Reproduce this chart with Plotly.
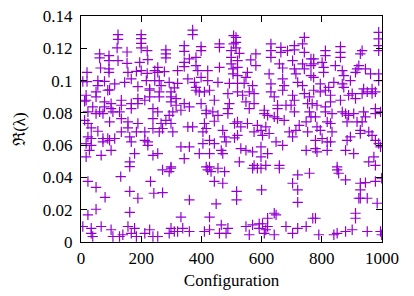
import plotly.graph_objects as go

config = [
123,123,120,153,200,200,200,200,220,222,62,62,93,93,153,123,195,156,184,200,220,245,20,65,93,93,6,20,56,56,78,112,145,167,189,217,228,245,95,
371,371,282,282,282,343,343,399,399,460,460,507,507,499,499,499,360,382,343,343,255,255,321,277,382,388,421,460,505,505,260,266,293,321,355,377,382,399,421,455,493,310,
515,515,515,526,520,520,581,564,581,631,631,631,664,664,686,709,709,742,736,742,659,670,703,709,714,736,742,764,764,764,625,553,548,542,520,520,570,670,675,631,720,736,
989,989,989,989,812,812,862,862,862,934,928,773,773,801,806,806,845,923,917,945,962,868,873,773,795,840,868,873,895,912,989,989,967,823,939,
17,17,50,50,89,12,39,78,78,100,100,134,134,167,167,189,189,212,228,228,239,239,23,50,62,73,106,128,134,95,12,23,34,56,134,156,156,189,184,239,23,34,73,89,95,112,162,167,212,212,17,34,28,73,100,222,222,17,67,178,162,239,
260,260,299,299,299,316,316,343,360,382,393,410,427,443,399,488,493,488,416,416,438,455,488,255,266,282,293,299,305,332,260,271,305,355,371,410,416,405,443,471,477,510,510,427,482,332,360,405,393,443,466,471,343,427,255,299,416,427,
520,537,559,575,548,559,575,631,642,670,653,653,681,703,709,742,759,753,709,698,609,609,642,653,675,620,759,764,520,531,553,520,586,598,614,603,575,625,692,714,725,753,748,703,648,670,531,548,598,620,598,570,748,526,575,614,659,
773,795,812,829,829,862,889,901,912,934,951,967,978,768,784,812,812,779,834,868,879,889,906,917,939,945,978,978,995,934,884,818,829,784,795,834,928,928,956,967,779,801,818,829,895,884,978,989,995,779,784,818,879,906,973,956,978,851,
23,50,80,132,162,189,231,242,23,50,162,6,34,34,39,67,100,106,128,139,156,167,178,184,212,228,239,162,
271,293,299,271,360,421,432,455,477,443,471,449,332,427,466,299,293,310,321,338,360,410,427,460,482,488,255,
570,586,598,659,720,759,703,720,720,517,517,600,642,648,620,548,570,592,603,592,614,620,559,609,642,681,703,720,748,770,
851,856,879,928,928,945,978,999,923,928,951,984,779,912,912,790,840,851,879,901,951,995,999,
]

value = [
0.1285,0.1255,0.1202,0.1177,0.1285,0.1260,0.1231,0.1202,0.1185,0.1130,0.1165,0.1140,0.1154,0.1123,0.1107,0.1123,0.1113,0.1051,0.1057,0.1062,0.1045,0.1062,0.1051,0.1078,0.1072,0.1051,0.0994,0.0994,0.1000,0.0969,0.0995,0.0979,0.0989,0.1010,0.0963,0.1000,0.0948,0.1000,0.0942,
0.1313,0.1285,0.1190,0.1165,0.1140,0.1216,0.1181,0.1210,0.1185,0.1227,0.1206,0.1278,0.1227,0.1185,0.1144,0.1103,0.1134,0.1144,0.1113,0.1086,0.1082,0.1051,0.1062,0.1055,0.1093,0.1062,0.1062,0.1082,0.1072,0.1041,0.1000,0.0969,0.0989,0.0983,0.1010,0.0989,0.0958,0.1020,0.1000,0.0989,0.0983,0.0955,
0.1268,0.1237,0.1202,0.1169,0.1123,0.1082,0.1165,0.1128,0.1093,0.1227,0.1185,0.1144,0.1206,0.1175,0.1185,0.1216,0.1190,0.1268,0.1227,0.1175,0.1103,0.1078,0.1123,0.1072,0.1041,0.1103,0.1072,0.1134,0.1093,0.1031,0.1041,0.1051,0.1020,0.0983,0.1031,0.0983,0.0969,0.1010,0.0969,0.0979,0.0989,0.0969,
0.1299,0.1258,0.1216,0.1185,0.1185,0.1154,0.1210,0.1175,0.1144,0.1185,0.1165,0.1134,0.1103,0.1113,0.1082,0.1051,0.1093,0.1093,0.1072,0.1072,0.1041,0.1062,0.1031,0.1020,0.0979,0.0989,0.0979,0.0958,0.1000,0.1051,0.1041,0.1000,0.0948,0.0958,0.0948,
0.0909,0.0878,0.0930,0.0899,0.0940,0.0872,0.0837,0.0868,0.0837,0.0857,0.0826,0.0878,0.0847,0.0857,0.0826,0.0888,0.0857,0.0878,0.0940,0.0899,0.0826,0.0764,0.0806,0.0795,0.0806,0.0795,0.0806,0.0806,0.0764,0.0744,0.0754,0.0734,0.0707,0.0686,0.0682,0.0744,0.0707,0.0734,0.0682,0.0703,0.0651,0.0641,0.0641,0.0641,0.0630,0.0641,0.0651,0.0620,0.0682,0.0630,0.0610,0.0599,0.0568,0.0620,0.0568,0.0620,0.0599,0.0527,0.0537,0.0548,0.0496,0.0537,
0.0930,0.0899,0.0930,0.0899,0.0868,0.0888,0.0847,0.0857,0.0837,0.0940,0.0930,0.0930,0.0940,0.0878,0.0857,0.0919,0.0857,0.0826,0.0816,0.0795,0.0806,0.0785,0.0795,0.0806,0.0734,0.0754,0.0785,0.0734,0.0806,0.0816,0.0682,0.0703,0.0682,0.0713,0.0713,0.0734,0.0703,0.0682,0.0748,0.0692,0.0651,0.0734,0.0645,0.0630,0.0620,0.0589,0.0589,0.0610,0.0548,0.0610,0.0568,0.0548,0.0517,0.0548,0.0548,0.0465,0.0465,0.0465,
0.0930,0.0909,0.0930,0.0919,0.0868,0.0826,0.0857,0.0930,0.0899,0.0940,0.0847,0.0826,0.0847,0.0909,0.0878,0.0919,0.0899,0.0857,0.0806,0.0847,0.0816,0.0795,0.0775,0.0764,0.0754,0.0785,0.0806,0.0775,0.0744,0.0713,0.0734,0.0661,0.0723,0.0692,0.0713,0.0661,0.0682,0.0672,0.0682,0.0692,0.0723,0.0682,0.0744,0.0651,0.0620,0.0599,0.0579,0.0568,0.0589,0.0548,0.0527,0.0558,0.0568,0.0496,0.0475,0.0475,0.0475,
0.0940,0.0930,0.0940,0.0909,0.0868,0.0878,0.0909,0.0919,0.0888,0.0919,0.0930,0.0919,0.0930,0.0857,0.0847,0.0837,0.0806,0.0775,0.0795,0.0806,0.0795,0.0785,0.0795,0.0744,0.0806,0.0775,0.0826,0.0795,0.0806,0.0744,0.0744,0.0744,0.0734,0.0713,0.0692,0.0682,0.0692,0.0672,0.0682,0.0661,0.0630,0.0641,0.0620,0.0620,0.0651,0.0630,0.0630,0.0610,0.0589,0.0579,0.0558,0.0568,0.0568,0.0548,0.0527,0.0496,0.0475,0.0465,
0.0375,0.0339,0.0277,0.0405,0.0313,0.0271,0.0375,0.0302,0.0168,0.0203,0.0184,0.0096,0.0085,0.0054,0.0034,0.0096,0.0076,0.0034,0.0034,0.0045,0.0096,0.0054,0.0085,0.0034,0.0054,0.0076,0.0034,0.0467,
0.0447,0.0436,0.0457,0.0306,0.0261,0.0447,0.0436,0.0457,0.0436,0.0375,0.0364,0.0236,0.0154,0.0154,0.0106,0.0085,0.0054,0.0065,0.0065,0.0085,0.0065,0.0065,0.0076,0.0054,0.0054,0.0085,0.0034,
0.0457,0.0457,0.0457,0.0457,0.0416,0.0426,0.0364,0.0323,0.0246,0.0313,0.0261,0.0323,0.0178,0.0168,0.0147,0.0096,0.0106,0.0113,0.0113,0.0085,0.0076,0.0096,0.0045,0.0054,0.0045,0.0096,0.0054,0.0085,0.0096,0.0147,
0.0447,0.0426,0.0385,0.0364,0.0323,0.0368,0.0375,0.0395,0.0271,0.0271,0.0271,0.0240,0.0147,0.0178,0.0147,0.0045,0.0045,0.0054,0.0065,0.0076,0.0065,0.0065,0.0045,
]

x_ticks = [0, 200, 400, 600, 800, 1000]
x_tick_labels = ["0", "200", "400", "600", "800", "1000"]
y_ticks = [0, 0.02, 0.04, 0.06, 0.08, 0.1, 0.12, 0.14]
y_tick_labels = ["0", "0.02", "0.04", "0.06", "0.08", "0.1", "0.12", "0.14"]

FONT = "Liberation Serif"
FS = 17

fig = go.Figure()
fig.add_trace(go.Scatter(
    x=config, y=value, mode="markers",
    marker=dict(symbol="cross-thin-open", size=7.4,
                line=dict(color="#9400D3", width=1.2), color="#9400D3"),
    showlegend=False, cliponaxis=True,
))

axis_common = dict(
    showline=True, linecolor="black", linewidth=1.2, mirror="allticks",
    ticks="inside", ticklen=6, tickwidth=1, tickcolor="black",
    showgrid=False, zeroline=False, automargin=False,
    tickfont=dict(family=FONT, size=FS, color="black"),
)

fig.update_layout(
    width=414, height=296,
    margin=dict(l=81, r=32, t=16, b=54),
    plot_bgcolor="white", paper_bgcolor="white",
    font=dict(family=FONT, color="black"),
    xaxis=dict(range=[0, 1000], tickvals=x_ticks, ticktext=x_tick_labels,
               ticklabelstandoff=0,
               title=dict(text="Configuration", font=dict(family=FONT, size=FS), standoff=7),
               **axis_common),
    yaxis=dict(range=[0, 0.1400001], tickvals=y_ticks, ticktext=y_tick_labels,
               ticklabelstandoff=4,
               title=dict(text="ℜ(λ)", font=dict(family=FONT, size=FS), standoff=12),
               **axis_common),
)

fig.write_html(
    "out.html",
    config={"displayModeBar": False},
    post_script="document.body.style.margin='0';document.body.style.overflow='hidden';",
)
